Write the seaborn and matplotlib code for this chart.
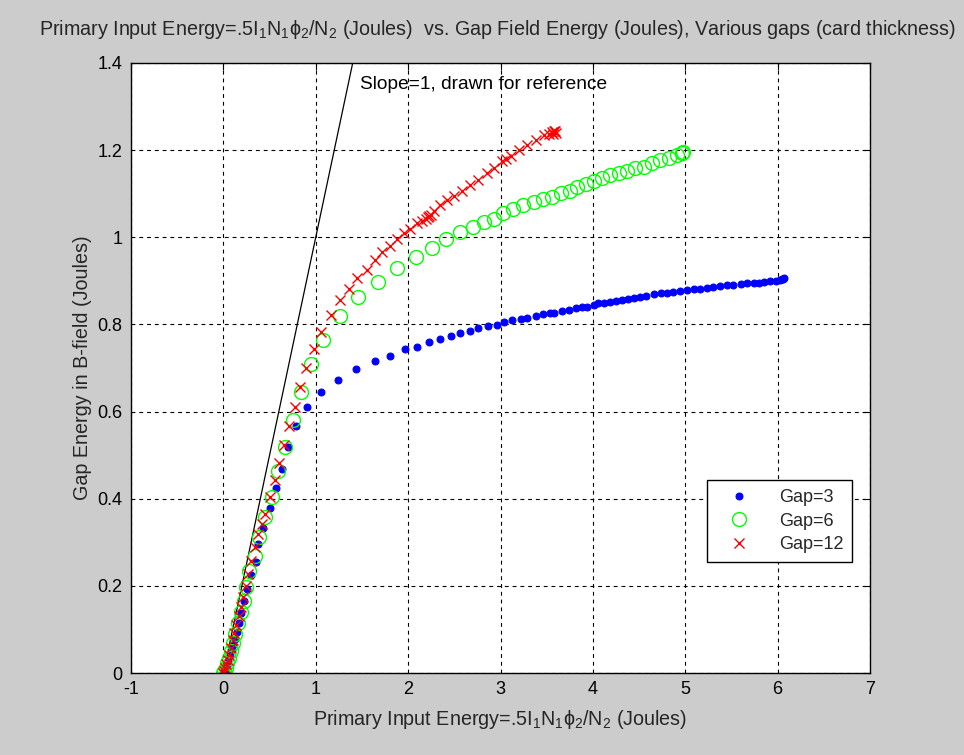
import matplotlib
matplotlib.use("Agg")
import matplotlib.pyplot as plt
import seaborn as sns

# Gap=3 (blue dots)
gap3_x = [0.00, 0.01, 0.02, 0.035, 0.05, 0.07, 0.09, 0.105, 0.125, 0.15, 0.17, 0.19,
          0.22, 0.26, 0.30, 0.35, 0.38, 0.43, 0.50, 0.57, 0.635, 0.70, 0.79, 0.91,
          1.06, 1.24, 1.44, 1.64, 1.80, 1.97, 2.10, 2.23, 2.35, 2.46, 2.56, 2.67,
          2.76, 2.86, 2.96, 3.04, 3.12, 3.22, 3.29, 3.38, 3.46, 3.54, 3.58, 3.67,
          3.74, 3.82, 3.88, 3.94, 4.01, 4.06, 4.12, 4.18, 4.25, 4.32, 4.38, 4.44,
          4.51, 4.58, 4.66, 4.74, 4.80, 4.87, 4.94, 5.02, 5.09, 5.16, 5.23, 5.30,
          5.38, 5.45, 5.52, 5.60, 5.67, 5.74, 5.80, 5.85, 5.92, 5.98, 6.03, 6.05,
          6.06, 6.07]
gap3_y = [0.000, 0.002, 0.006, 0.015, 0.027, 0.040, 0.052, 0.065, 0.078, 0.095, 0.115, 0.138,
          0.166, 0.192, 0.225, 0.255, 0.296, 0.332, 0.379, 0.424, 0.468, 0.519, 0.567, 0.610,
          0.645, 0.672, 0.697, 0.715, 0.728, 0.743, 0.749, 0.760, 0.767, 0.773, 0.781, 0.786,
          0.792, 0.796, 0.799, 0.806, 0.809, 0.813, 0.815, 0.819, 0.823, 0.827, 0.827, 0.830,
          0.834, 0.837, 0.841, 0.841, 0.845, 0.849, 0.850, 0.852, 0.854, 0.857, 0.859, 0.860,
          0.863, 0.866, 0.869, 0.871, 0.872, 0.874, 0.877, 0.879, 0.881, 0.882, 0.884, 0.886,
          0.888, 0.890, 0.891, 0.893, 0.894, 0.895, 0.896, 0.897, 0.899, 0.900, 0.902, 0.904,
          0.905, 0.906]

# Gap=6 (green open circles)
gap6_x = [0.00, 0.01, 0.025, 0.04, 0.06, 0.08, 0.10, 0.13, 0.16, 0.19, 0.22, 0.25,
          0.275, 0.34, 0.39, 0.455, 0.53, 0.59, 0.67, 0.75, 0.84, 0.95, 1.08, 1.26,
          1.46, 1.67, 1.88, 2.08, 2.26, 2.41, 2.56, 2.70, 2.82, 2.93, 3.03, 3.14,
          3.24, 3.36, 3.46, 3.56, 3.65, 3.75, 3.83, 3.93, 4.01, 4.10, 4.19, 4.28,
          4.37, 4.46, 4.55, 4.64, 4.73, 4.82, 4.91, 4.96, 4.98]
gap6_y = [0.000, 0.004, 0.012, 0.022, 0.035, 0.050, 0.068, 0.090, 0.115, 0.140, 0.166, 0.198,
          0.235, 0.269, 0.311, 0.359, 0.405, 0.464, 0.519, 0.581, 0.644, 0.709, 0.764, 0.819,
          0.864, 0.897, 0.929, 0.954, 0.975, 0.995, 1.013, 1.024, 1.036, 1.043, 1.056, 1.066,
          1.074, 1.082, 1.088, 1.093, 1.101, 1.107, 1.116, 1.123, 1.130, 1.135, 1.143, 1.148,
          1.153, 1.158, 1.162, 1.170, 1.177, 1.183, 1.188, 1.194, 1.196]

# Gap=12 (red crosses)
gap12_x = [0.00, 0.01, 0.02, 0.03, 0.045, 0.06, 0.08, 0.10, 0.12, 0.14, 0.165, 0.19,
           0.215, 0.24, 0.27, 0.30, 0.34, 0.38, 0.42, 0.455, 0.50, 0.555, 0.60, 0.66,
           0.71, 0.77, 0.83, 0.895, 0.98, 1.06, 1.16, 1.26, 1.36, 1.45, 1.56, 1.64,
           1.72, 1.80, 1.88, 1.95, 2.02, 2.10, 2.15, 2.19, 2.21, 2.23, 2.25, 2.28,
           2.35, 2.42, 2.50, 2.58, 2.67, 2.76, 2.85, 2.93, 3.02, 3.06, 3.11, 3.20,
           3.29, 3.38, 3.47, 3.52, 3.56, 3.58, 3.59, 3.60, 3.57]
gap12_y = [0.000, 0.005, 0.012, 0.020, 0.030, 0.042, 0.058, 0.075, 0.092, 0.110, 0.130, 0.152,
           0.175, 0.200, 0.228, 0.258, 0.290, 0.318, 0.342, 0.365, 0.403, 0.443, 0.481, 0.523,
           0.567, 0.611, 0.656, 0.699, 0.744, 0.783, 0.822, 0.855, 0.881, 0.906, 0.926, 0.948,
           0.967, 0.980, 0.997, 1.009, 1.020, 1.032, 1.038, 1.043, 1.046, 1.049, 1.052, 1.061,
           1.074, 1.085, 1.095, 1.107, 1.120, 1.131, 1.147, 1.158, 1.174, 1.180, 1.187, 1.200,
           1.211, 1.223, 1.234, 1.238, 1.242, 1.244, 1.245, 1.240, 1.236]

# slope=1 reference line
ref_x = [0.0, 1.6]
ref_y = [0.0, 1.6]

x_ticks = [-1, 0, 1, 2, 3, 4, 5, 6, 7]
y_ticks = [0, 0.2, 0.4, 0.6, 0.8, 1.0, 1.2, 1.4]
y_tick_labels = ["0", "0.2", "0.4", "0.6", "0.8", "1", "1.2", "1.4"]

energy_label = r"Primary Input Energy=.5I$_1$N$_1$$\phi_2$/N$_2$ (Joules)"
title_text = energy_label + "  vs. Gap Field Energy (Joules), Various gaps (card thickness)"

sns.set_theme(style="white")
plt.rcParams["font.family"] = ["Liberation Sans", "DejaVu Sans"]
plt.rcParams["mathtext.fontset"] = "custom"
plt.rcParams["mathtext.rm"] = "Liberation Sans"
plt.rcParams["mathtext.it"] = "Liberation Sans"

fig = plt.figure(figsize=(9.64, 7.55), dpi=100, facecolor="#cccccc")
ax = fig.add_axes([0.1359, 0.1086, 0.7666, 0.808])
ax.set_facecolor("white")

sns.lineplot(x=ref_x, y=ref_y, color="black", linewidth=0.9, ax=ax, sort=False, estimator=None)

sns.lineplot(x=gap3_x, y=gap3_y, ax=ax, sort=False, estimator=None, linestyle="none",
             marker="o", markersize=5, markerfacecolor="#0000ff", markeredgecolor="#0000ff",
             color="#0000ff", label="Gap=3")
sns.lineplot(x=gap6_x, y=gap6_y, ax=ax, sort=False, estimator=None, linestyle="none",
             marker="o", markersize=10, markerfacecolor="none", markeredgecolor="#00ff00",
             markeredgewidth=1.0, color="#00ff00", label="Gap=6")
sns.lineplot(x=gap12_x, y=gap12_y, ax=ax, sort=False, estimator=None, linestyle="none",
             marker="x", markersize=7, markeredgecolor="#ff0000", markeredgewidth=1.0,
             color="#ff0000", label="Gap=12")

ax.text(1.48, 1.35, "Slope=1, drawn for reference", fontsize=13.8, color="black",
        ha="left", va="center")

ax.set_xlim(-1, 7)
ax.set_ylim(0, 1.4)
ax.set_xticks(x_ticks)
ax.set_xticklabels([str(t) for t in x_ticks])
ax.set_yticks(y_ticks)
ax.set_yticklabels(y_tick_labels)
ax.tick_params(direction="in", length=5, width=0.8, top=True, right=True,
               labelsize=13, colors="black", pad=6)
ax.grid(True, color="black", linestyle=(0, (3.5, 3.5)), linewidth=0.8)
for sp in ax.spines.values():
    sp.set_color("black")
    sp.set_linewidth(1.0)

ax.set_xlabel(energy_label, fontsize=14.2, labelpad=7)
ax.set_ylabel("Gap Energy in B-field (Joules)", fontsize=14.2, labelpad=4)
fig.text(0.04, 0.961, title_text, fontsize=14.2, ha="left", va="center")

leg = ax.legend(loc="upper left", bbox_to_anchor=(0.779, 0.316), borderaxespad=0,
                frameon=True, fancybox=False, edgecolor="black", framealpha=1,
                fontsize=13, handlelength=2.6, handletextpad=0.9, borderpad=0.5,
                labelspacing=0.35)
leg.get_frame().set_linewidth(1.0)

fig.savefig("out.png", dpi=100, facecolor=fig.get_facecolor())
